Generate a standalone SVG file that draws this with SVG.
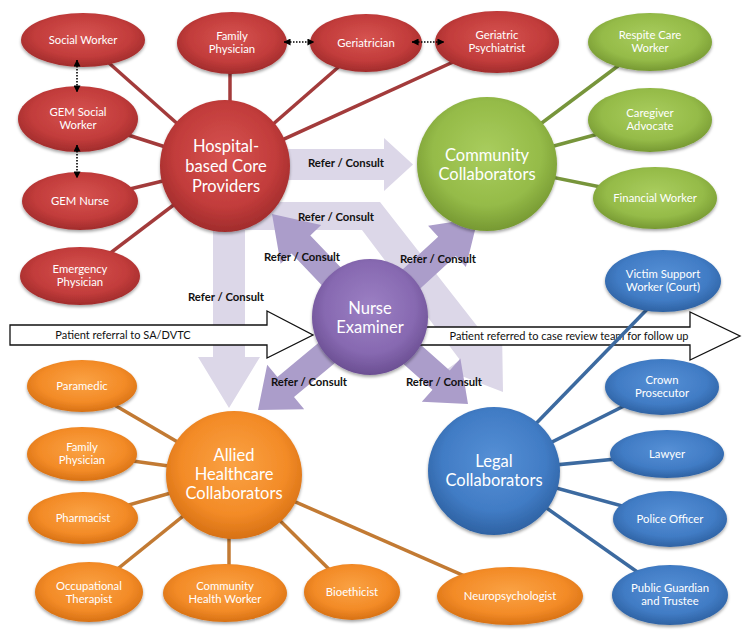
<svg xmlns="http://www.w3.org/2000/svg" width="750" height="642" viewBox="0 0 750 642">
<defs>
<style>
.big{font-family:Lato,"Liberation Sans",sans-serif;font-size:16.5px;fill:#fff;text-anchor:middle}
.sm{font-family:Lato,"Liberation Sans",sans-serif;font-size:11.3px;fill:#fff;text-anchor:middle}
.rc{font-family:Lato,"Liberation Sans",sans-serif;font-size:11.3px;font-weight:bold;fill:#111;text-anchor:middle}
.pt{font-family:Lato,"Liberation Sans",sans-serif;font-size:11px;fill:#111;text-anchor:middle}
.light{fill:#dcd7e8}
.purp{fill:#ab9dca}
.pat{fill:#fff;stroke:#111;stroke-width:1.3}
.lr{stroke:#a33b3b;stroke-width:3.5}
.lg{stroke:#77953b;stroke-width:3.5}
.lo{stroke:#c27a33;stroke-width:3.5}
.lb{stroke:#3c6aa0;stroke-width:3.5}
.dot{stroke:#000;stroke-width:1.6;stroke-dasharray:1.5 1.5;marker-start:url(#ah);marker-end:url(#ah)}
.red{fill:url(#gRed);filter:url(#sh)}
.green{fill:url(#gGreen);filter:url(#sh)}
.blue{fill:url(#gBlue);filter:url(#sh)}
.orange{fill:url(#gOrange);filter:url(#sh)}
.purple{fill:url(#gPurple);filter:url(#sh)}
</style>
<radialGradient id="gRed" cx="50%" cy="42%" r="60%"><stop offset="0" stop-color="#d65350"/><stop offset="0.65" stop-color="#c23c3b"/><stop offset="1" stop-color="#9d2a2a"/></radialGradient>
<radialGradient id="gGreen" cx="50%" cy="42%" r="60%"><stop offset="0" stop-color="#a9cd5e"/><stop offset="0.65" stop-color="#95bb48"/><stop offset="1" stop-color="#739530"/></radialGradient>
<radialGradient id="gBlue" cx="50%" cy="42%" r="60%"><stop offset="0" stop-color="#5690d6"/><stop offset="0.65" stop-color="#417cc5"/><stop offset="1" stop-color="#2c5f9f"/></radialGradient>
<radialGradient id="gOrange" cx="50%" cy="42%" r="60%"><stop offset="0" stop-color="#faa244"/><stop offset="0.65" stop-color="#f38b27"/><stop offset="1" stop-color="#d46e12"/></radialGradient>
<radialGradient id="gPurple" cx="50%" cy="42%" r="60%"><stop offset="0" stop-color="#9c80c4"/><stop offset="0.65" stop-color="#8769b1"/><stop offset="1" stop-color="#684c8f"/></radialGradient>
<filter id="sh" x="-20%" y="-20%" width="140%" height="150%"><feDropShadow dx="0" dy="2" stdDeviation="1.5" flood-color="#000" flood-opacity="0.35"/></filter>
<marker id="ah" viewBox="0 0 8 8" refX="7.5" refY="4" markerWidth="7" markerHeight="7" orient="auto-start-reverse" markerUnits="userSpaceOnUse"><path d="M0,0 L8,4 L0,8 z" fill="#000"/></marker>
</defs>
<rect width="750" height="642" fill="#fff"/>

<g id="flow-arrows">
<polygon class="light" points="280,149 384,149 384,138 413,164.5 384,191 384,180 280,180"/>
<polygon class="light" points="213,220 245,220 245,357 260,357 229,408 198,357 213,357"/>
<polygon class="light" points="229,202 380,202 488,340 502,330 503,392 446,370 460,360 362,230 229,230"/>
<polygon class="purp" points="379.4,308 310.3,235.4 321.2,225.1 272,214 280.6,263.7 291.5,253.4 360.6,326"/>
<polygon class="purp" points="361.2,307.4 438.2,236.8 428.1,225.8 478,218 465.9,267 455.8,256 378.8,326.6"/>
<polygon class="purp" points="378.3,327 294,397 304.2,409.3 258,410 267.2,364.7 277.4,377 361.7,307"/>
<polygon class="purp" points="361.4,326.7 432.5,389.8 421.8,401.8 468,404 460.4,358.4 449.7,370.4 378.6,307.3"/>
<polygon class="pat" points="10,325 267,325 267,311 313,335 267,358 267,345 10,345"/>
<polygon class="pat" points="400,327 690,327 690,312 740,336 690,360 690,345 400,345"/>
<text class="pt" x="123" y="339">Patient referral to SA/DVTC</text>
<text class="pt" x="569" y="340">Patient referred to case review team for follow up</text>
</g>

<g id="connectors">
<line class="lr" x1="83" y1="40" x2="225" y2="166"/>
<line class="lr" x1="78" y1="119" x2="225" y2="166"/>
<line class="lr" x1="80" y1="201" x2="225" y2="166"/>
<line class="lr" x1="80" y1="276" x2="225" y2="166"/>
<line class="lr" x1="230" y1="60" x2="230" y2="120"/>
<line class="lr" x1="366" y1="43" x2="225" y2="166"/>
<line class="lr" x1="497" y1="42" x2="225" y2="166"/>
<line class="lg" x1="650" y1="42" x2="487" y2="164"/>
<line class="lg" x1="650" y1="120" x2="487" y2="164"/>
<line class="lg" x1="655" y1="198" x2="487" y2="164"/>
<line class="lo" x1="82" y1="386" x2="234" y2="475"/>
<line class="lo" x1="82" y1="454" x2="234" y2="475"/>
<line class="lo" x1="83" y1="518" x2="234" y2="475"/>
<line class="lo" x1="89" y1="592" x2="234" y2="475"/>
<line class="lo" x1="229" y1="520" x2="229" y2="580"/>
<line class="lo" x1="352" y1="592" x2="234" y2="475"/>
<line class="lo" x1="510" y1="596" x2="234" y2="475"/>
<line class="lb" x1="660" y1="296" x2="520" y2="440"/>
<line class="lb" x1="662" y1="387" x2="494" y2="471"/>
<line class="lb" x1="667" y1="454" x2="494" y2="471"/>
<line class="lb" x1="670" y1="519" x2="494" y2="471"/>
<line class="lb" x1="670" y1="595" x2="494" y2="471"/>
</g>

<g id="hospital"><ellipse class="red" cx="225" cy="166" rx="65" ry="66"/><text class="big" x="226" y="152">Hospital-</text><text class="big" x="226" y="172">based Core</text><text class="big" x="226" y="192">Providers</text></g>
<g id="community"><ellipse class="green" cx="487" cy="164" rx="70" ry="67"/><text class="big" x="487" y="161">Community</text><text class="big" x="487" y="180">Collaborators</text></g>
<g id="nurse"><ellipse class="purple" cx="370" cy="317" rx="58" ry="58"/><text class="big" x="370" y="314">Nurse</text><text class="big" x="370" y="333">Examiner</text></g>
<g id="allied"><ellipse class="orange" cx="234" cy="475" rx="68" ry="64"/><text class="big" x="234" y="461">Allied</text><text class="big" x="234" y="480">Healthcare</text><text class="big" x="234" y="499">Collaborators</text></g>
<g id="legal"><ellipse class="blue" cx="494" cy="471" rx="66" ry="64"/><text class="big" x="494" y="467">Legal</text><text class="big" x="494" y="486">Collaborators</text></g>

<g id="social-worker"><ellipse class="red" cx="83" cy="40" rx="62" ry="27"/><text class="sm" x="83" y="44">Social Worker</text></g>
<g id="gem-social-worker"><ellipse class="red" cx="78" cy="119" rx="60" ry="33"/><text class="sm" x="78" y="116">GEM Social</text><text class="sm" x="78" y="129">Worker</text></g>
<g id="gem-nurse"><ellipse class="red" cx="80" cy="201" rx="58" ry="29"/><text class="sm" x="80" y="205">GEM Nurse</text></g>
<g id="emergency-physician"><ellipse class="red" cx="80" cy="276" rx="60" ry="29"/><text class="sm" x="80" y="273">Emergency</text><text class="sm" x="80" y="286">Physician</text></g>
<g id="family-physician-red"><ellipse class="red" cx="232" cy="43" rx="55" ry="31"/><text class="sm" x="232" y="40">Family</text><text class="sm" x="232" y="53">Physician</text></g>
<g id="geriatrician"><ellipse class="red" cx="366" cy="43" rx="56" ry="29"/><text class="sm" x="366" y="47">Geriatrician</text></g>
<g id="geriatric-psychiatrist"><ellipse class="red" cx="497" cy="42" rx="62" ry="31"/><text class="sm" x="497" y="39">Geriatric</text><text class="sm" x="497" y="52">Psychiatrist</text></g>

<g id="respite-care-worker"><ellipse class="green" cx="650" cy="42" rx="62" ry="29"/><text class="sm" x="650" y="39">Respite Care</text><text class="sm" x="650" y="52">Worker</text></g>
<g id="caregiver-advocate"><ellipse class="green" cx="650" cy="120" rx="62" ry="32"/><text class="sm" x="650" y="117">Caregiver</text><text class="sm" x="650" y="130">Advocate</text></g>
<g id="financial-worker"><ellipse class="green" cx="655" cy="198" rx="62" ry="31"/><text class="sm" x="655" y="202">Financial Worker</text></g>

<g id="victim-support"><ellipse class="blue" cx="663" cy="281" rx="58" ry="31"/><text class="sm" x="663" y="278">Victim Support</text><text class="sm" x="663" y="291">Worker (Court)</text></g>
<g id="crown-prosecutor"><ellipse class="blue" cx="662" cy="387" rx="57" ry="28"/><text class="sm" x="662" y="384">Crown</text><text class="sm" x="662" y="397">Prosecutor</text></g>
<g id="lawyer"><ellipse class="blue" cx="667" cy="454" rx="57" ry="24"/><text class="sm" x="667" y="458">Lawyer</text></g>
<g id="police-officer"><ellipse class="blue" cx="670" cy="519" rx="57" ry="28"/><text class="sm" x="670" y="523">Police Officer</text></g>
<g id="public-guardian"><ellipse class="blue" cx="670" cy="595" rx="58" ry="30"/><text class="sm" x="670" y="592">Public Guardian</text><text class="sm" x="670" y="605">and Trustee</text></g>

<g id="paramedic"><ellipse class="orange" cx="82" cy="386" rx="55" ry="26"/><text class="sm" x="82" y="390">Paramedic</text></g>
<g id="family-physician-orange"><ellipse class="orange" cx="82" cy="454" rx="55" ry="27"/><text class="sm" x="82" y="451">Family</text><text class="sm" x="82" y="464">Physician</text></g>
<g id="pharmacist"><ellipse class="orange" cx="83" cy="518" rx="55" ry="26"/><text class="sm" x="83" y="522">Pharmacist</text></g>
<g id="occupational-therapist"><ellipse class="orange" cx="89" cy="592" rx="54" ry="30"/><text class="sm" x="89" y="590">Occupational</text><text class="sm" x="89" y="603">Therapist</text></g>
<g id="community-health-worker"><ellipse class="orange" cx="225" cy="593" rx="62" ry="29"/><text class="sm" x="225" y="590">Community</text><text class="sm" x="225" y="603">Health Worker</text></g>
<g id="bioethicist"><ellipse class="orange" cx="352" cy="592" rx="48" ry="28"/><text class="sm" x="352" y="596">Bioethicist</text></g>
<g id="neuropsychologist"><ellipse class="orange" cx="510" cy="596" rx="73" ry="29"/><text class="sm" x="510" y="600">Neuropsychologist</text></g>

<g id="peer-links">
<line class="dot" x1="284" y1="42" x2="314" y2="42"/>
<line class="dot" x1="412" y1="42" x2="444" y2="42"/>
<line class="dot" x1="77" y1="60" x2="77" y2="92"/>
<line class="dot" x1="77" y1="145" x2="77" y2="178"/>
</g>

<g id="flow-labels">
<text class="rc" x="346" y="167">Refer / Consult</text>
<text class="rc" x="336" y="221">Refer / Consult</text>
<text class="rc" x="302" y="261">Refer / Consult</text>
<text class="rc" x="438" y="263">Refer / Consult</text>
<text class="rc" x="226" y="301">Refer / Consult</text>
<text class="rc" x="309" y="386">Refer / Consult</text>
<text class="rc" x="444" y="386">Refer / Consult</text>
</g>
</svg>
